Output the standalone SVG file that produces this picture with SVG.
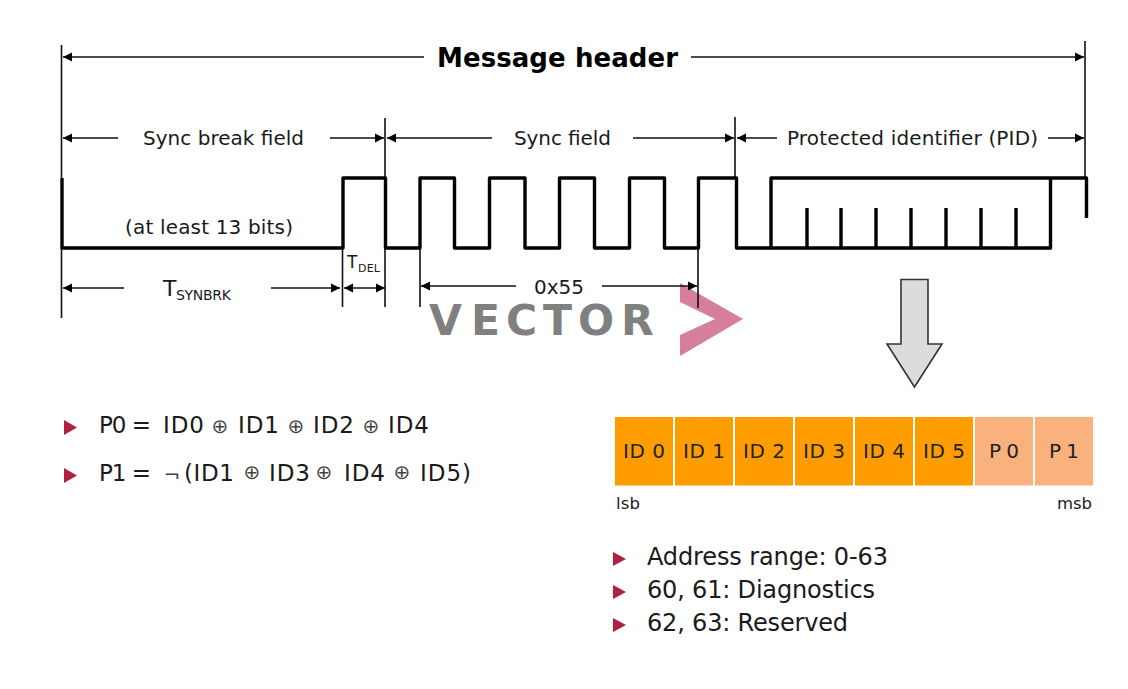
<svg xmlns="http://www.w3.org/2000/svg" width="1128" height="689" viewBox="0 0 1128 689">
<style>
text{font-family:"DejaVu Sans","Verdana",sans-serif;fill:#1a1a1a}
.f{font-size:20px}.b{font-size:23px}.c{font-size:20px;fill:#222}.s{font-size:16.5px}.a{font-size:24px}
.ln{stroke:#111;stroke-width:1.6;fill:none}
.w{stroke:#000;stroke-width:3.4;fill:none;stroke-linejoin:round}
.id{fill:#fe9c00}.p{fill:#f9b27d}.bu{fill:#ae2140}
.x{font-size:20px;fill:#444}
</style>
<defs>
<marker id="ah" markerUnits="userSpaceOnUse" markerWidth="10" markerHeight="10" refX="9" refY="5" orient="auto-start-reverse"><path d="M0 0.5L9 5L0 9.5Z" fill="#000"/></marker>
</defs>
<g id="logo">
<text x="429 471 506 543 578 621" y="335" style="font-weight:700;font-size:42.500px;fill:#808080">VECTOR</text>
<polygon points="680,283 743,319 680,356 680,335 715,319 680,302" fill="#d57f9b"/>
</g>
<g id="connectors">
<path class="ln" d="M61.500 45V178M61.500 248V318M1085 41V178M385 118V178M735 117V178M342.500 248V307M385 248V307M420 248V307M698 248V308"/>
<g class="ln">
<path d="M63 57H424" marker-start="url(#ah)"/>
<path d="M63 138H118" marker-start="url(#ah)"/>
<path d="M387 138H492" marker-start="url(#ah)"/>
<path d="M737 138H777" marker-start="url(#ah)"/>
<path d="M63 288H124" marker-start="url(#ah)"/>
<path d="M344 288H385" marker-start="url(#ah)" marker-end="url(#ah)"/>
<path d="M421 286H516" marker-start="url(#ah)"/>
<path d="M691 57H1084" marker-end="url(#ah)"/>
<path d="M330 138H384" marker-end="url(#ah)"/>
<path d="M633 138H734" marker-end="url(#ah)"/>
<path d="M1048 138H1084" marker-end="url(#ah)"/>
<path d="M271 288H340" marker-end="url(#ah)"/>
<path d="M602 286H697" marker-end="url(#ah)"/>
</g>
</g>
<g id="waveform">
<path class="w" d="M62 178V248H343V178H385.500V248H420V178H454.500V248H489.500V178H525V248H559.500V178H594.500V248H629.500V178H664.500V248H698.500V178H736.500V248H771V178H1086.500V218"/>
<path class="w" d="M771 248H1050.500V178M807 208V248M841 208V248M876 208V248M911 208V248M946 208V248M981 208V248M1016 208V248"/>
</g>
<g id="labels">
<text x="437" y="67" textLength="241" style="font-size:26px;font-weight:700;fill:#000">Message header</text>
<text class="f" x="143" y="145" textLength="161">Sync break field</text>
<text class="f" x="514" y="145" textLength="97">Sync field</text>
<text class="f" x="787" y="145" textLength="251">Protected identifier (PID)</text>
<text class="f" x="125" y="234" textLength="168">(at least 13 bits)</text>
<text x="163" y="296" style="font-size:22px">T</text>
<text x="176" y="300" textLength="55" style="font-size:14px">SYNBRK</text>
<text x="347" y="268" style="font-size:17px">T</text>
<text x="358" y="272" textLength="22" style="font-size:11px">DEL</text>
<text class="f" x="534" y="294" textLength="50">0x55</text>
</g>
<g id="arrow-down">
<polygon points="901,279.500 928,279.500 928,344 942,344 914.500,387 887,344 901,344" fill="#dcdcdc" stroke="#333" stroke-width="1.6"/>
</g>
<g id="formula-p0">
<polygon class="bu" points="64,420 77,427.500 64,435"/>
<text class="b" x="99" y="433" textLength="52">P0 =</text>
<text class="b" x="163" y="433" textLength="41">ID0</text><text class="x" x="220" y="433" text-anchor="middle">⊕</text>
<text class="b" x="238" y="433" textLength="41">ID1</text><text class="x" x="296" y="433" text-anchor="middle">⊕</text>
<text class="b" x="313" y="433" textLength="41">ID2</text><text class="x" x="371" y="433" text-anchor="middle">⊕</text>
<text class="b" x="388" y="433" textLength="41">ID4</text>
</g>
<g id="formula-p1">
<polygon class="bu" points="64,468 77,475.500 64,483"/>
<text class="b" x="99" y="481" textLength="52">P1 =</text>
<text class="x" x="172" y="482" text-anchor="middle">¬</text>
<text class="b" x="184" y="481" textLength="50">(ID1</text><text class="x" x="252" y="479" text-anchor="middle">⊕</text>
<text class="b" x="269" y="481" textLength="41">ID3</text><text class="x" x="324" y="479" text-anchor="middle">⊕</text>
<text class="b" x="344" y="481" textLength="41">ID4</text><text class="x" x="402" y="479" text-anchor="middle">⊕</text>
<text class="b" x="420" y="481" textLength="51">ID5)</text>
</g>
<g id="pid-cells">
<rect class="id" x="615" y="417" width="58" height="68.500"/><text class="c" x="623" y="458" textLength="42">ID 0</text>
<rect class="id" x="675" y="417" width="58" height="68.500"/><text class="c" x="683" y="458" textLength="42">ID 1</text>
<rect class="id" x="735" y="417" width="58" height="68.500"/><text class="c" x="743" y="458" textLength="42">ID 2</text>
<rect class="id" x="795" y="417" width="58" height="68.500"/><text class="c" x="803" y="458" textLength="42">ID 3</text>
<rect class="id" x="855" y="417" width="58" height="68.500"/><text class="c" x="863" y="458" textLength="42">ID 4</text>
<rect class="id" x="915" y="417" width="58" height="68.500"/><text class="c" x="923" y="458" textLength="42">ID 5</text>
<rect class="p" x="975" y="417" width="58" height="68.500"/><text class="c" x="989" y="458" textLength="30">P 0</text>
<rect class="p" x="1035" y="417" width="58" height="68.500"/><text class="c" x="1049" y="458" textLength="30">P 1</text>
<text class="s" x="616" y="509" textLength="24">lsb</text>
<text class="s" x="1057" y="509" textLength="35">msb</text>
</g>
<g id="address-notes">
<polygon class="bu" points="613,552 626,559 613,566"/>
<text class="a" x="647" y="565" textLength="241">Address range: 0-63</text>
<polygon class="bu" points="613,585 626,592 613,599"/>
<text class="a" x="647" y="598" textLength="228">60, 61: Diagnostics</text>
<polygon class="bu" points="613,618 626,625 613,632"/>
<text class="a" x="647" y="631" textLength="201">62, 63: Reserved</text>
</g>
</svg>
